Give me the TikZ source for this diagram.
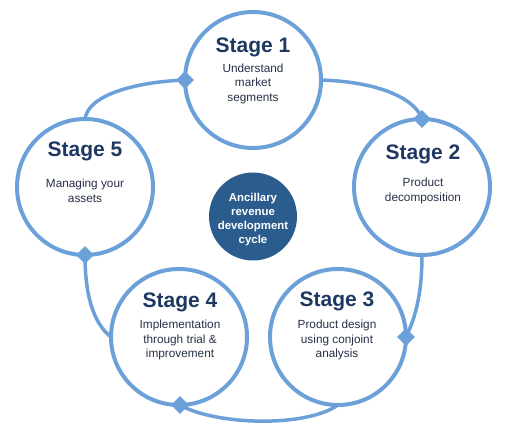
\documentclass[tikz,border=0pt]{standalone}
\usepackage{fontspec}
\setmainfont{Liberation Sans}
\usetikzlibrary{shapes.geometric}
\definecolor{lineblue}{RGB}{108,160,216}
\definecolor{hubblue}{RGB}{42,92,142}
\definecolor{titleblue}{RGB}{30,56,98}
\definecolor{bodytext}{RGB}{38,48,72}
\tikzset{
  stagecircle/.style={circle,draw=lineblue,line width=4pt,fill=white,minimum size=136pt,inner sep=0pt,outer sep=0pt},
  hub/.style={circle,fill=hubblue,minimum size=88pt,inner sep=0pt},
  hubtext/.style={align=center,text=white,inner sep=0pt,font=\fontsize{11.4}{14.1}\selectfont\bfseries},
  title/.style={text=titleblue,font=\fontsize{21}{24}\selectfont\bfseries,inner sep=0pt,anchor=base},
  body/.style={text=bodytext,font=\fontsize{11.8}{14.5}\selectfont,align=center,inner sep=0pt},
  link/.style={draw=lineblue,line width=3.5pt},
  knot/.style={diamond,fill=lineblue,minimum size=18pt,inner sep=0pt}
}
\begin{document}
\begin{tikzpicture}[x=1pt,y=-1pt]
\useasboundingbox (0,0) rectangle (508,443);
% connectors first
\coordinate (p1) at (85,119);
\coordinate (p2) at (185,80);
\coordinate (p3) at (321,80);
\coordinate (p4) at (422,119);
\coordinate (p5) at (422,255);
\coordinate (p6) at (406,337);
\coordinate (p7) at (338,405);
\coordinate (p8) at (180,405);
\coordinate (p9) at (111,337);
\coordinate (p10) at (85,255);
\draw[link] (p1) .. controls (88,95) and (135,82) .. (p2);
\draw[link] (p3) .. controls (382,82) and (416,100) .. (p4);
\draw[link] (p5) .. controls (422,300) and (413,322) .. (p6);
\draw[link] (p7) .. controls (305,428) and (215,425) .. (p8);
\draw[link] (p9) .. controls (92,322) and (85,292) .. (p10);
% stage circles
\node[stagecircle] (s1) at (253,80) {};
\node[stagecircle] (s2) at (422,187) {};
\node[stagecircle] (s3) at (338,337) {};
\node[stagecircle] (s4) at (179,337) {};
\node[stagecircle] (s5) at (85,187) {};
% diamonds
\node[knot] (k1) at (p2) {};
\node[knot] (k2) at (p4) {};
\node[knot] (k3) at (p6) {};
\node[knot] (k4) at (p8) {};
\node[knot] (k5) at (p10) {};
% hub
\node[hub] (hub) at (253,216.5) {};
\node[hubtext] (ht) at (253,219.5) {Ancillary\\revenue\\development\\cycle};
% texts
\node[title] (t1) at (253,52.5) {Stage 1};
\node[body] (b1) at (253,83.5) {Understand\\market\\segments};
\node[title] (t2) at (423,160) {Stage 2};
\node[body] (b2) at (423,191) {Product\\decomposition};
\node[title] (t3) at (337,306) {Stage 3};
\node[body] (b3) at (337,340) {Product design\\using conjoint\\analysis};
\node[title] (t4) at (180,307) {Stage 4};
\node[body] (b4) at (180,340) {Implementation\\through trial \&\\improvement};
\node[title] (t5) at (85,157) {Stage 5};
\node[body] (b5) at (85,191) {Managing your\\assets};
\end{tikzpicture}
\end{document}
